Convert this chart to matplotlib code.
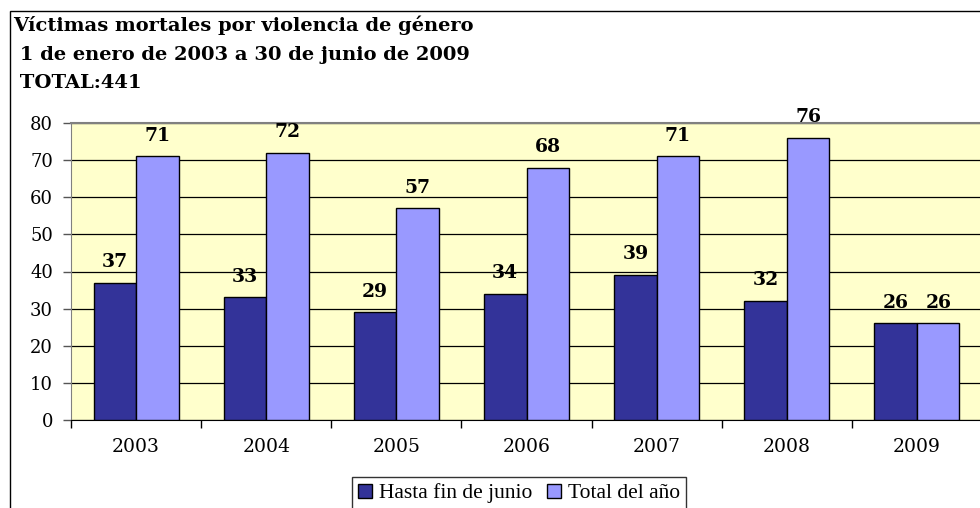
import matplotlib
matplotlib.use("Agg")
import matplotlib.pyplot as plt
from matplotlib.patches import Patch, Rectangle
import numpy as np

# Data
years = ["2003", "2004", "2005", "2006", "2007", "2008", "2009"]
hasta_junio = [37, 33, 29, 34, 39, 32, 26]
total_anio = [71, 72, 57, 68, 71, 76, 26]
series_names = ["Hasta fin de junio", "Total del año"]
title_lines = [
    "Víctimas mortales por violencia de género",
    " 1 de enero de 2003 a 30 de junio de 2009",
    " TOTAL:441",
]

DARK = "#333399"
LIGHT = "#9999FF"
BG = "#FFFFCC"
SERIF_B = "DejaVu Serif"
SERIF_L = "Liberation Serif"

W, H = 980, 508
fig = plt.figure(figsize=(W / 100, H / 100), dpi=100)
fig.patch.set_facecolor("white")

# outer chart frame (runs off the right/bottom edge in the reference)
fig.patches.append(Rectangle((9.5 / W, -0.2), 1.2, 1.2 - 11 / H,
                             transform=fig.transFigure, fill=False,
                             edgecolor="black", linewidth=1.0, zorder=0))

ax = fig.add_axes([71 / W, 1 - 420 / H, 911 / W, 297 / H])
ax.set_facecolor(BG)

x = np.arange(len(years))
bw = 0.327
b1 = ax.bar(x - bw / 2, hasta_junio, bw, color=DARK, edgecolor="black", linewidth=1.0, zorder=3)
b2 = ax.bar(x + bw / 2, total_anio, bw, color=LIGHT, edgecolor="black", linewidth=1.0, zorder=3)

for bars, vals in ((b1, hasta_junio), (b2, total_anio)):
    for bar, v in zip(bars, vals):
        ax.annotate(f"{v}", (bar.get_x() + bar.get_width() / 2, v),
                    xytext=(0, 8.5), textcoords="offset points",
                    ha="center", va="bottom", fontsize=13.5,
                    fontweight="heavy", family=SERIF_B, color="black")

ax.set_xlim(-0.5, len(years) - 0.5)
ax.set_ylim(0, 80)
ax.set_yticks(range(0, 81, 10))
ax.yaxis.grid(True, color="black", linewidth=0.9, zorder=1)
ax.set_axisbelow(True)

# ticks between categories, labels at centers
ax.set_xticks(np.arange(-0.5, len(years), 1.0))
ax.set_xticklabels([])
ax.set_xticks(x, minor=True)
ax.set_xticklabels(years, minor=True, fontsize=13.5, family=SERIF_B)
ax.tick_params(axis="x", which="major", direction="out", length=6, width=1, color="black")
ax.tick_params(axis="x", which="minor", length=0, pad=13)
ax.tick_params(axis="y", direction="out", length=6, width=1, color="#555555",
               labelsize=13, pad=7)
for lab in ax.get_yticklabels():
    lab.set_family(SERIF_B)

ax.spines["top"].set_color("#808080")
ax.spines["top"].set_linewidth(1.5)
ax.spines["left"].set_color("#808080")
ax.spines["bottom"].set_color("black")
ax.spines["right"].set_visible(False)

# title block
ys = [25, 55, 83]
for txt, yy in zip(title_lines, ys):
    fig.text(13 / W, 1 - yy / H, txt, ha="left", va="center",
             fontsize=14, fontweight="bold", family=SERIF_B)

handles = [Patch(facecolor=DARK, edgecolor="black", label=series_names[0]),
           Patch(facecolor=LIGHT, edgecolor="black", label=series_names[1])]
leg = fig.legend(handles=handles, loc="upper left",
                 bbox_to_anchor=(352 / W, 1 - 477 / H), ncol=2,
                 prop={"family": SERIF_L, "size": 15.5},
                 frameon=True, fancybox=False, edgecolor="black",
                 handlelength=0.65, handleheight=0.65, handletextpad=0.3,
                 columnspacing=0.7, borderpad=0.3, borderaxespad=0)
leg.get_frame().set_linewidth(1.0)

fig.savefig("out.png", dpi=100, facecolor="white")
